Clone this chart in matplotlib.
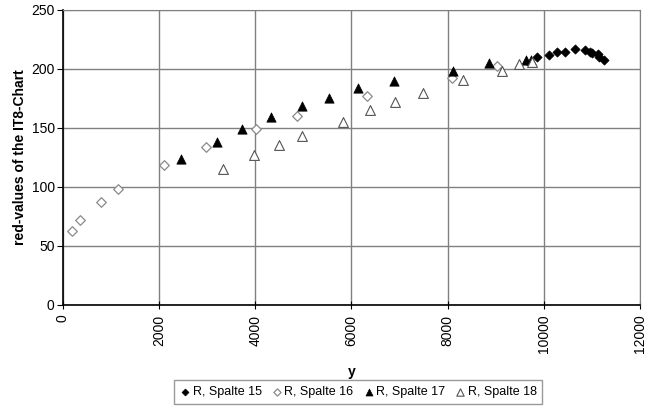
import matplotlib
matplotlib.use("Agg")
import matplotlib.pyplot as plt

plt.rcParams["font.family"] = ["Liberation Sans", "DejaVu Sans"]

# R, Spalte 15 (filled diamonds)
s15_x = [9860, 10100, 10280, 10430, 10640, 10850, 10970, 11010, 11120, 11140, 11250]
s15_y = [210.4, 212.1, 214.1, 214.1, 216.7, 216.1, 214.7, 213.8, 212.7, 209.9, 207.6]

# R, Spalte 16 (open diamonds)
s16_x = [180, 350, 790, 1150, 2105, 2975, 4005, 4865, 6315, 8085, 9035]
s16_y = [63.0, 72.0, 87.5, 98.3, 118.6, 134.2, 149.2, 160.2, 177.1, 192.6, 202.5]

# R, Spalte 17 (filled triangles)
s17_x = [2460, 3200, 3730, 4330, 4975, 5525, 6130, 6880, 8120, 8865, 9625, 9725]
s17_y = [123.5, 138.4, 148.9, 159.1, 168.6, 175.7, 183.6, 189.8, 198.6, 204.8, 207.6, 207.6]

# R, Spalte 18 (open triangles)
s18_x = [3325, 3975, 4495, 4970, 5820, 6395, 6900, 7480, 8310, 9125, 9475, 9745]
s18_y = [115.0, 126.9, 135.3, 143.5, 155.3, 165.3, 172.3, 179.9, 190.7, 198.7, 204.2, 206.2]

fig = plt.figure(figsize=(6.52, 4.08), dpi=100)
ax = fig.add_axes([0.0966, 0.2525, 0.885, 0.723])

ax.scatter(s15_x, s15_y, marker="D", s=22, c="black", edgecolors="black",
           linewidths=0.5, label="R, Spalte 15", zorder=3)
ax.scatter(s16_x, s16_y, marker="D", s=24, facecolors="white", edgecolors="#8a8a8a",
           linewidths=0.9, label="R, Spalte 16", zorder=3)
ax.scatter(s17_x, s17_y, marker="^", s=45, c="black", edgecolors="black",
           linewidths=0.5, label="R, Spalte 17", zorder=3)
ax.scatter(s18_x, s18_y, marker="^", s=50, facecolors="white", edgecolors="#555555",
           linewidths=0.8, label="R, Spalte 18", zorder=3)

ax.set_xlim(0, 12000)
ax.set_ylim(0, 250)
ax.set_xticks(range(0, 12001, 2000))
ax.set_yticks(range(0, 251, 50))
ax.grid(True, color="#808080", linewidth=1.0)
ax.set_axisbelow(True)

for side in ["top", "right"]:
    ax.spines[side].set_color("#808080")
for side in ["left", "bottom"]:
    ax.spines[side].set_color("black")
    ax.spines[side].set_linewidth(1.2)

ax.tick_params(axis="x", direction="inout", length=6, labelsize=10, labelrotation=90, pad=4)
ax.tick_params(axis="y", direction="out", length=4, labelsize=10, pad=2)

ax.set_xlabel("y", fontsize=10, fontweight="bold", labelpad=8)
ax.set_ylabel("red-values of the IT8-Chart", fontsize=10, fontweight="bold", labelpad=3)

leg = fig.legend(loc="center", bbox_to_anchor=(0.549, 0.039), ncol=4, fontsize=9,
                 frameon=True, fancybox=False, edgecolor="#808080",
                 handletextpad=0.1, columnspacing=0.7, borderpad=0.45,
                 handlelength=1.0, markerscale=0.75)
leg.get_frame().set_linewidth(1.0)

fig.savefig("out.png", dpi=100)
